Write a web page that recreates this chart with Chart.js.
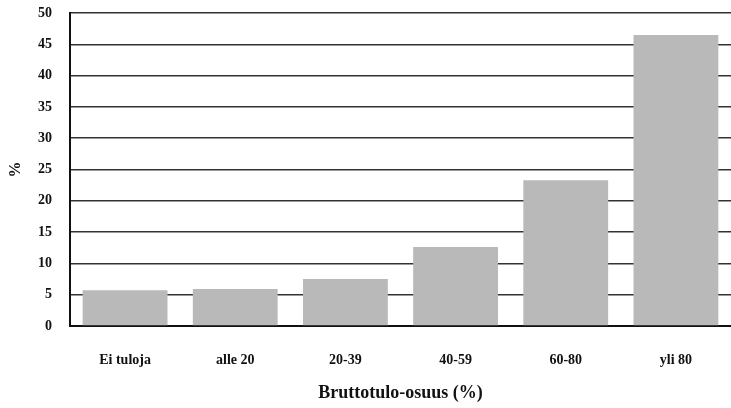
<!DOCTYPE html>
<html lang="fi">
<head>
<meta charset="UTF-8">
<title>Bruttotulo-osuus</title>
<script src="https://cdn.jsdelivr.net/npm/chart.js"></script>
<style>
  html, body { margin: 0; padding: 0; background: #fff; overflow: hidden; }
  #wrap { width: 731px; height: 408px; }
</style>
</head>
<body>
<div id="wrap"><canvas id="kuva"></canvas></div>
<script>
  // data luettu kuvasta
  const luokat = ["Ei tuloja", "alle 20", "20-39", "40-59", "60-80", "yli 80"];
  const osuudet = [5.7, 5.9, 7.5, 12.6, 23.3, 46.5];

  const fontti = "'Liberation Serif', 'Times New Roman', serif";

  new Chart(document.getElementById("kuva"), {
    type: "bar",
    data: {
      labels: luokat,
      datasets: [{
        data: osuudet,
        backgroundColor: "#b9b9b9",
        barPercentage: 0.77,
        categoryPercentage: 1
      }]
    },
    options: {
      responsive: true,
      maintainAspectRatio: false,
      animation: false,
      layout: { padding: { top: 13, right: 0, left: 2, bottom: 0 } },
      plugins: { legend: { display: false }, tooltip: { enabled: false } },
      scales: {
        x: {
          grid: { display: false },
          border: { color: "#111", width: 2 },
          ticks: { color: "#111", padding: 18, font: { family: fontti, size: 14, weight: "bold" } },
          title: {
            display: true, text: "Bruttotulo-osuus (%)", color: "#111",
            font: { family: fontti, size: 18, weight: "bold" }, padding: { top: 20 }
          },
          afterFit: s => { s.height = 82; }
        },
        y: {
          min: 0, max: 50,
          ticks: { stepSize: 5, color: "#111", padding: 18, font: { family: fontti, size: 14, weight: "bold" } },
          grid: { color: "#333", lineWidth: 1.5, tickLength: 0 },
          border: { color: "#111", width: 2 },
          title: {
            display: true, text: "%", color: "#111",
            font: { family: fontti, size: 16, weight: "bold" }, padding: { bottom: 12 }
          },
          afterFit: s => { s.width = 68; s.paddingTop = 0; }
        }
      }
    }
  });
</script>
</body>
</html>
